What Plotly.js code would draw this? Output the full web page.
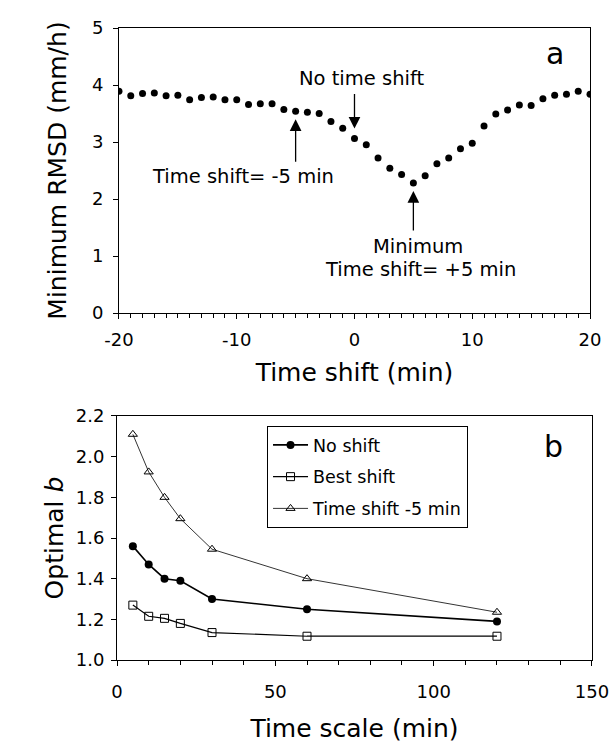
<!DOCTYPE html>
<html>
<head>
<meta charset="utf-8">
<script src="https://cdn.plot.ly/plotly-3.0.1.min.js"></script>
<style>html,body{margin:0;padding:0;background:#fff;}#chart{width:613px;height:749px;}</style>
</head>
<body>
<div id="chart"></div>
<script>
// Panel a: minimum RMSD vs time shift
const timeShift = [-20,-19,-18,-17,-16,-15,-14,-13,-12,-11,-10,-9,-8,-7,-6,-5,-4,-3,-2,-1,0,1,2,3,4,5,6,7,8,9,10,11,12,13,14,15,16,17,18,19,20];
const minRMSD = [3.89,3.81,3.85,3.86,3.81,3.82,3.74,3.78,3.79,3.74,3.74,3.66,3.67,3.67,3.57,3.54,3.52,3.50,3.36,3.24,3.06,2.95,2.72,2.54,2.43,2.28,2.41,2.62,2.72,2.88,2.98,3.28,3.49,3.56,3.65,3.64,3.76,3.82,3.84,3.89,3.84];
const shiftTickVals = [-20, -10, 0, 10, 20];
const shiftTickText = ['-20', '-10', '0', '10', '20'];

// Panel b: optimal b vs time scale
const timeScale = [5, 10, 15, 20, 30, 60, 120];
const bNoShift = [1.56, 1.47, 1.40, 1.39, 1.30, 1.25, 1.19];
const bBestShift = [1.27, 1.215, 1.205, 1.18, 1.135, 1.117, 1.117];
const bShiftMinus5 = [2.11, 1.925, 1.80, 1.695, 1.545, 1.40, 1.235];
const seriesNames = ['No shift', 'Best shift', 'Time shift -5 min'];

const FONT = 'DejaVu Sans, Verdana, sans-serif';

const traces = [
  {x: timeShift, y: minRMSD, xaxis: 'x', yaxis: 'y', mode: 'markers', type: 'scatter',
   marker: {color: '#000', size: 7}, showlegend: false},
  {x: timeScale, y: bNoShift, xaxis: 'x2', yaxis: 'y2', mode: 'lines+markers', type: 'scatter', name: seriesNames[0], legendgroup: 'g1',
   line: {color: '#000', width: 1.6}, marker: {symbol: 'circle', color: '#000', size: 8}},
  {x: timeScale, y: bBestShift, xaxis: 'x2', yaxis: 'y2', mode: 'lines+markers', type: 'scatter', name: seriesNames[1], legendgroup: 'g2',
   line: {color: '#000', width: 1.2}, marker: {symbol: 'square-open', color: '#000', size: 8, line: {width: 1}}},
  {x: timeScale, y: bShiftMinus5, xaxis: 'x2', yaxis: 'y2', mode: 'lines+markers', type: 'scatter', name: seriesNames[2], legendgroup: 'g3',
   line: {color: '#000', width: 0.8}, marker: {symbol: 'triangle-up-open', color: '#000', size: 8, line: {width: 1}}}
];

const axBase = {showgrid: false, zeroline: false, showline: true, linecolor: '#000', linewidth: 1, mirror: true,
  ticks: 'outside', ticklen: 5, tickcolor: '#000', tickfont: {family: FONT, size: 18, color: '#000'}, automargin: false};

const layout = {
  width: 613, height: 749,
  margin: {l: 0, r: 0, t: 0, b: 0},
  paper_bgcolor: '#fff', plot_bgcolor: '#fff',
  font: {family: FONT, color: '#000'},
  xaxis: Object.assign({}, axBase, {domain: [0.1941, 0.9625], anchor: 'y', range: [-20, 20],
    tickmode: 'array', tickvals: shiftTickVals, ticktext: shiftTickText, ticklabelstandoff: 5,
    minor: {dtick: 1, tick0: 0, ticks: 'outside', ticklen: 4, tickcolor: '#000', showgrid: false},
    title: {text: 'Time shift (min)', font: {family: FONT, size: 25}, standoff: 14}}),
  yaxis: Object.assign({}, axBase, {domain: [0.5821, 0.9626], anchor: 'x', range: [0, 5], dtick: 1, ticklabelstandoff: 6,
    title: {text: 'Minimum RMSD (mm/h)', font: {family: FONT, size: 25}, standoff: 18}}),
  xaxis2: Object.assign({}, axBase, {domain: [0.1909, 0.9657], anchor: 'y2', range: [0, 150], dtick: 50, ticklabelstandoff: 10,
    minor: {dtick: 10, ticks: 'outside', ticklen: 4, tickcolor: '#000', showgrid: false},
    title: {text: 'Time scale (min)', font: {family: FONT, size: 25}, standoff: 18}}),
  yaxis2: Object.assign({}, axBase, {domain: [0.1188, 0.4446], anchor: 'x2', range: [1.0, 2.2], dtick: 0.2, tickformat: '.1f', ticklabelstandoff: 3,
    title: {text: 'Optimal <i>b</i>', font: {family: FONT, size: 25}, standoff: 5}}),
  showlegend: true,
  legend: {x: 0.4356, y: 0.4312, xanchor: 'left', yanchor: 'top', bgcolor: '#fff', bordercolor: '#000', borderwidth: 1,
    font: {family: FONT, size: 17.5, color: '#000'}, itemwidth: 35, tracegroupgap: 6},
  annotations: [
    {xref: 'x', yref: 'y', x: 0.6, y: 4.12, text: 'No time shift', showarrow: false, font: {family: FONT, size: 19.5}},
    {xref: 'x', yref: 'y', x: 0, y: 3.06, text: '', showarrow: true, ax: 0, ay: -46,
     arrowhead: 2, arrowsize: 1.8, arrowwidth: 1.3, arrowcolor: '#000', standoff: 10},
    {xref: 'x', yref: 'y', x: -9.5, y: 2.39, text: 'Time shift= -5 min', showarrow: false, font: {family: FONT, size: 19.5}},
    {xref: 'x', yref: 'y', x: -5, y: 3.54, text: '', showarrow: true, ax: 0, ay: 52,
     arrowhead: 2, arrowsize: 1.8, arrowwidth: 1.3, arrowcolor: '#000', standoff: 8},
    {xref: 'x', yref: 'y', x: 5, y: 2.28, text: '', showarrow: true, ax: 0, ay: 49,
     arrowhead: 2, arrowsize: 1.8, arrowwidth: 1.3, arrowcolor: '#000', standoff: 8},
    {xref: 'x', yref: 'y', x: 5.4, y: 1.16, text: 'Minimum', showarrow: false, font: {family: FONT, size: 19.5}},
    {xref: 'x', yref: 'y', x: 5.6, y: 0.77, text: 'Time shift= +5 min', showarrow: false, font: {family: FONT, size: 19.5}},
    {xref: 'x', yref: 'y', x: 17, y: 4.55, text: 'a', showarrow: false, font: {family: FONT, size: 30}},
    {xref: 'x2', yref: 'y2', x: 138, y: 2.05, text: 'b', showarrow: false, font: {family: FONT, size: 30}}
  ]
};

Plotly.newPlot('chart', traces, layout, {displayModeBar: false, staticPlot: true});
</script>
</body>
</html>
